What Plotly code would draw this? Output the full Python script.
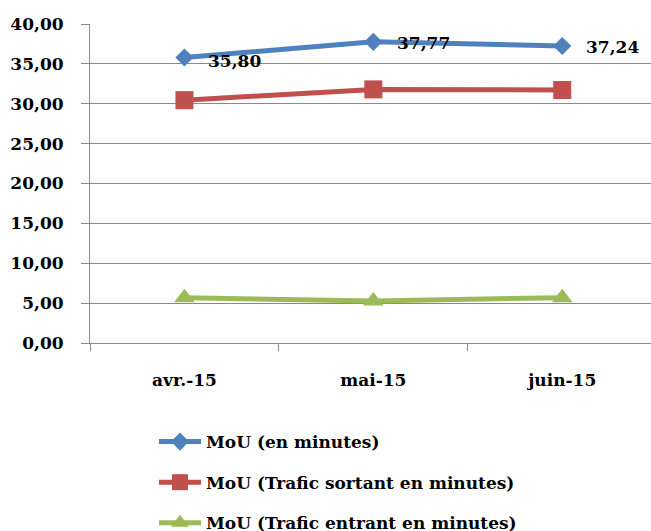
import plotly.graph_objects as go

categories = ["avr.-15", "mai-15", "juin-15"]
mou_total = [35.80, 37.77, 37.24]
mou_sortant = [30.45, 31.80, 31.72]
mou_entrant = [5.67, 5.28, 5.68]
series_names = ["MoU (en minutes)", "MoU (Trafic sortant en minutes)", "MoU (Trafic entrant en minutes)"]
y_ticks = [0, 5, 10, 15, 20, 25, 30, 35, 40]

FONT = dict(family="DejaVu Serif", size=17, color="black", weight="bold")
GRID = "#8a8a8a"

W, H = 651, 531

fig = go.Figure()
specs = [
    (mou_total, "#4F81BD", "diamond", 14),
    (mou_sortant, "#C0504D", "square", 18),
    (mou_entrant, "#9BBB59", "triangle-up", 18),
]
for i, (vals, col, sym, sz) in enumerate(specs):
    fig.add_trace(go.Scatter(
        x=categories, y=vals, mode="lines+markers", name=series_names[i],
        legendgroup=f"g{i}",
        line=dict(color=col, width=5),
        marker=dict(symbol=sym, size=sz, color=col),
        hoverinfo="skip",
    ))

label_yshift = [-3, -1, -1]
for j, (c, v) in enumerate(zip(categories, mou_total)):
    fig.add_annotation(
        x=c, y=v, xref="x", yref="y", text=f"{v:.2f}".replace(".", ","),
        showarrow=False, xanchor="left", yanchor="middle",
        xshift=22, yshift=label_yshift[j], font=FONT,
    )

fig.update_layout(
    width=W, height=H,
    margin=dict(l=90, r=0, t=24, b=188, autoexpand=False),
    paper_bgcolor="white", plot_bgcolor="white",
    separators=", ",
    font=FONT,
    showlegend=True,
    legend=dict(
        xref="container", yref="container",
        x=154 / W, y=1 - 424 / H, xanchor="left", yanchor="top",
        orientation="v", font=FONT, itemwidth=42, tracegroupgap=15.5,
        traceorder="grouped", bgcolor="rgba(0,0,0,0)",
    ),
    xaxis=dict(
        type="category", range=[-0.5, 2.47], tickson="boundaries",
        ticks="outside", ticklen=7, tickcolor=GRID, tickwidth=1,
        showline=True, linecolor=GRID, linewidth=1, showgrid=False,
        tickfont=FONT, ticklabelstandoff=22, zeroline=False, fixedrange=True,
        tickangle=0,
    ),
    yaxis=dict(
        range=[0, 40], tickvals=y_ticks, tickformat=".2f",
        ticks="outside", ticklen=8, tickcolor=GRID, tickwidth=1,
        showline=True, linecolor=GRID, linewidth=1,
        showgrid=True, gridcolor=GRID, gridwidth=1, zeroline=False,
        tickfont=FONT, ticklabelstandoff=14,
    ),
)

fig.write_html(
    "out.html",
    config={"displayModeBar": False},
    post_script="document.body.style.margin='0';document.body.style.overflow='hidden';",
)
